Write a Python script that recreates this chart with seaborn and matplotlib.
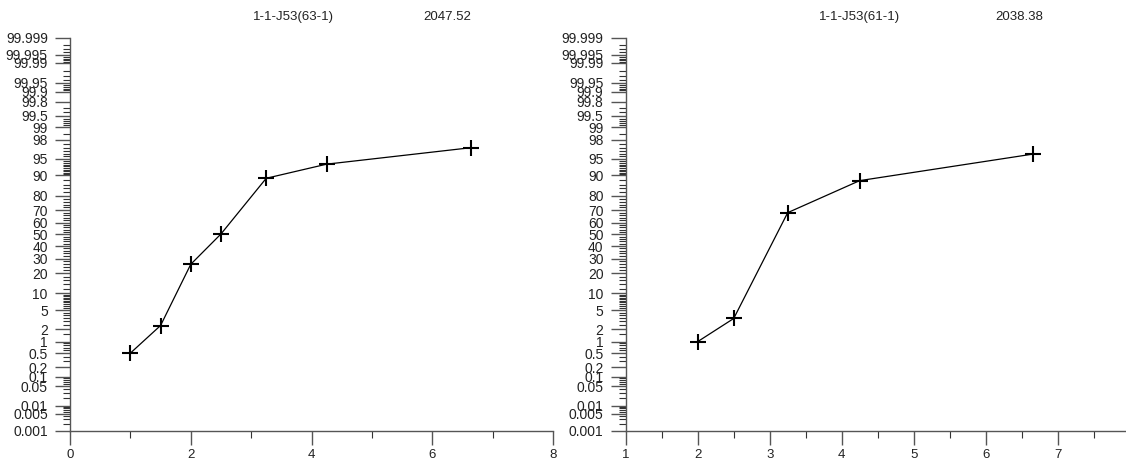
from statistics import NormalDist
import numpy as np
import seaborn as sns
import matplotlib.pyplot as plt

# Cumulative percent curves (probability scale)
left_x = [1.0, 1.5, 2.0, 2.5, 3.25, 4.25, 6.65]
left_y = [0.5, 2.4, 25.8, 50.3, 88.8, 93.6, 97.0]
right_x = [2.0, 2.5, 3.25, 4.25, 6.65]
right_y = [1.0, 3.4, 68.1, 87.8, 95.9]

left_title = "1-1-J53(63-1)"
left_value = "2047.52"
right_title = "1-1-J53(61-1)"
right_value = "2038.38"

prob_ticks = [0.001, 0.005, 0.01, 0.05, 0.1, 0.2, 0.5, 1, 2, 5, 10, 20, 30, 40,
              50, 60, 70, 80, 90, 95, 98, 99, 99.5, 99.8, 99.9, 99.95, 99.99,
              99.995, 99.999]
prob_labels = ["0.001", "0.005", "0.01", "0.05", "0.1", "0.2", "0.5", "1", "2",
               "5", "10", "20", "30", "40", "50", "60", "70", "80", "90", "95",
               "98", "99", "99.5", "99.8", "99.9", "99.95", "99.99", "99.995",
               "99.999"]

# minor ticks on the probability axis
low = list(np.arange(0.001, 0.01, 0.001)) + list(np.arange(0.01, 0.1, 0.01)) + \
    list(np.arange(0.1, 1, 0.1)) + list(np.arange(1, 10, 0.5))
minor_ticks = low + list(np.arange(10, 91, 2)) + [100 - v for v in low]

nd = NormalDist()


def _fwd(p):
    p = np.clip(np.asarray(p, dtype=float), 1e-7, 100 - 1e-7)
    return np.vectorize(lambda v: nd.inv_cdf(v / 100.0))(p)


def _inv(z):
    z = np.asarray(z, dtype=float)
    return np.vectorize(lambda v: nd.cdf(v) * 100.0)(z)


sns.set_style("ticks")
plt.rcParams['font.family'] = ['Liberation Sans', 'DejaVu Sans']
plt.rcParams['font.size'] = 10

fig = plt.figure(figsize=(11.26, 4.63), dpi=100)
ax1 = fig.add_axes([70 / 1126, 32 / 463, 483 / 1126, 393.3 / 463])
ax2 = fig.add_axes([625.7 / 1126, 32 / 463, 504 / 1126, 393.3 / 463])

panels = [
    (ax1, left_x, left_y, left_title, left_value, (0, 8), [0, 2, 4, 6, 8], [1, 3, 5, 7]),
    (ax2, right_x, right_y, right_title, right_value, (1, 8), [1, 2, 3, 4, 5, 6, 7],
     [1.5, 2.5, 3.5, 4.5, 5.5, 6.5, 7.5]),
]

for ax, xs, ys, title, value, xlim, xmaj, xmin in panels:
    sns.lineplot(x=xs, y=ys, ax=ax, color='black', linewidth=0.9, marker='+',
                 markersize=12, markeredgewidth=1.5, markeredgecolor='black')
    ax.set_yscale('function', functions=(_fwd, _inv))
    ax.set_ylim(0.001, 99.999)
    ax.set_xlim(*xlim)
    ax.set_yticks(prob_ticks)
    ax.set_yticklabels(prob_labels)
    ax.set_yticks(minor_ticks, minor=True)
    ax.set_xticks(xmaj)
    ax.set_xticks(xmin, minor=True)
    for side in ['top', 'right']:
        ax.spines[side].set_visible(False)
    for side in ['left', 'bottom']:
        ax.spines[side].set_color('#555555')
        ax.spines[side].set_linewidth(1.0)
    ax.tick_params(which='major', length=11, width=1.0, color='#555555', pad=5,
                   labelsize=10, labelcolor='#222222')
    ax.tick_params(axis='x', which='major', length=10, pad=3, labelsize=9.5)
    ax.tick_params(which='minor', length=5, width=0.8, color='#333333')
    ax.text(0.463, 1.053, title, transform=ax.transAxes, ha='center', va='center',
            fontsize=9.5, color='#222222')
    ax.text(0.781, 1.053, value, transform=ax.transAxes, ha='center', va='center',
            fontsize=9.5, color='#222222')
    ax.set_xlabel('')
    ax.set_ylabel('')

fig.savefig("out.png", dpi=100)
